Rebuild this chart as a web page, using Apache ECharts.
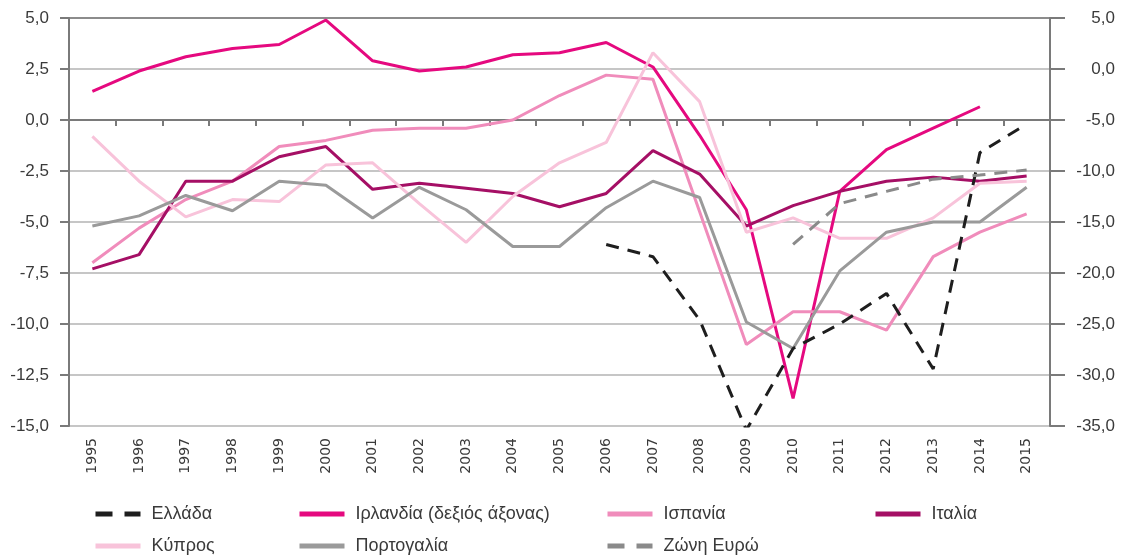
<!DOCTYPE html>
<html>
<head>
<meta charset="utf-8">
<script src="https://cdn.jsdelivr.net/npm/echarts@6/dist/echarts.min.js"></script>
<style>
  html, body { margin: 0; padding: 0; background: #fff; }
  #chart { width: 1122px; height: 558px; }
</style>
</head>
<body>
<div id="chart"></div>
<script>
// Years on the x axis
var years = ['1995', '1996', '1997', '1998', '1999', '2000', '2001', '2002', '2003', '2004', '2005',
  '2006', '2007', '2008', '2009', '2010', '2011', '2012', '2013', '2014', '2015'];

// Left axis series
var greece = [null, null, null, null, null, null, null, null, null, null, null,
  -6.1, -6.7, -9.8, -15.2, -11.2, -10.0, -8.5, -12.2, -1.6, -0.2];
var spain = [-7.0, -5.3, -3.9, -3.0, -1.3, -1.0, -0.5, -0.4, -0.4, 0.0, 1.2,
  2.2, 2.0, -4.5, -11.0, -9.4, -9.4, -10.3, -6.7, -5.5, -4.6];
var italy = [-7.3, -6.6, -3.0, -3.0, -1.8, -1.3, -3.4, -3.1, -3.35, -3.6, -4.25,
  -3.6, -1.5, -2.65, -5.2, -4.2, -3.5, -3.0, -2.8, -3.0, -2.75];
var cyprus = [-0.8, -3.0, -4.75, -3.9, -4.0, -2.2, -2.1, -4.1, -6.0, -3.75, -2.1,
  -1.1, 3.3, 0.9, -5.5, -4.8, -5.8, -5.8, -4.8, -3.1, -3.0];
var portugal = [-5.2, -4.7, -3.7, -4.45, -3.0, -3.2, -4.8, -3.3, -4.4, -6.2, -6.2,
  -4.3, -3.0, -3.8, -9.9, -11.2, -7.4, -5.5, -5.0, -5.0, -3.3];
var euroArea = [null, null, null, null, null, null, null, null, null, null, null,
  null, null, null, null, -6.1, -4.1, -3.5, -2.9, -2.7, -2.45];

// Right axis series
var ireland = [-2.2, -0.2, 1.2, 2.0, 2.4, 4.8, 0.8, -0.2, 0.2, 1.4, 1.6,
  2.6, 0.2, -6.5, -13.8, -32.3, -12.0, -7.9, -5.8, -3.7, null];

var leftTicks = { min: -15, max: 5, interval: 2.5 };
var rightTicks = { min: -35, max: 5, interval: 5 };

var fontFamily = "'Liberation Sans', Arial, sans-serif";
var textColor = '#3a3a3a';
var axisColor = '#7a7a7a';
var gridColor = '#c6c6c6';

var chart = echarts.init(document.getElementById('chart'));

function commaFormat(v) {
  return v.toFixed(1).replace('.', ',');
}

function lineSeries(name, data, color, axis, dashed) {
  return {
    type: 'line',
    name: name,
    data: data,
    yAxisIndex: axis,
    symbol: 'none',
    connectNulls: false,
    z: dashed ? 3 : 2,
    lineStyle: {
      color: color,
      width: 3,
      type: dashed ? [13, 9] : 'solid'
    },
    itemStyle: { color: color }
  };
}

// one legend block per entry, laid out as in the source (4 columns, 2 rows)
function legendItem(name, left, row, dashed) {
  return {
    left: left,
    top: row === 0 ? 500 : 532,
    itemWidth: 45,
    itemHeight: 18,
    data: [name],
    itemStyle: { opacity: 0 },
    lineStyle: { width: 5, type: dashed ? [17, 12] : 'solid' },
    textStyle: { fontFamily: fontFamily, fontSize: 18, color: textColor, padding: [0, 0, 0, 6] }
  };
}

var option = {
  animation: false,
  backgroundColor: '#fff',
  grid: { left: 69, right: 72, top: 18, bottom: 132 },
  legend: [
    legendItem('Ελλάδα', 88, 0, true),
    legendItem('Ιρλανδία (δεξιός άξονας)', 292, 0, false),
    legendItem('Ισπανία', 600, 0, false),
    legendItem('Ιταλία', 868, 0, false),
    legendItem('Κύπρος', 88, 1, false),
    legendItem('Πορτογαλία', 292, 1, false),
    legendItem('Ζώνη Ευρώ', 600, 1, true)
  ],
  xAxis: {
    type: 'category',
    data: years,
    boundaryGap: true,
    axisLine: { lineStyle: { color: axisColor, width: 2 } },
    axisTick: { show: true, length: 6, interval: 0, lineStyle: { color: axisColor, width: 2 } },
    axisLabel: {
      interval: 0,
      rotate: 90,
      margin: 12,
      fontFamily: "'DejaVu Sans', sans-serif",
      fontSize: 14,
      color: textColor
    }
  },
  yAxis: [{
    type: 'value',
    position: 'left',
    min: leftTicks.min,
    max: leftTicks.max,
    interval: leftTicks.interval,
    axisLine: { show: true, lineStyle: { color: axisColor, width: 2 } },
    axisTick: { show: true, length: 9, lineStyle: { color: axisColor, width: 2 } },
    splitLine: {
      show: true,
      lineStyle: {
        color: [gridColor, gridColor, gridColor, gridColor, gridColor, gridColor, gridColor, gridColor, '#8c8c8c'],
        width: 2
      }
    },
    axisLabel: {
      formatter: commaFormat,
      margin: 20,
      fontFamily: fontFamily,
      fontSize: 17,
      color: textColor
    }
  }, {
    type: 'value',
    position: 'right',
    min: rightTicks.min,
    max: rightTicks.max,
    interval: rightTicks.interval,
    axisLine: { show: true, lineStyle: { color: axisColor, width: 2 } },
    axisTick: { show: true, length: 15, lineStyle: { color: axisColor, width: 2 } },
    splitLine: { show: false },
    axisLabel: {
      formatter: commaFormat,
      align: 'right',
      margin: 65,
      fontFamily: fontFamily,
      fontSize: 17,
      color: textColor
    }
  }],
  series: [
    lineSeries('Ελλάδα', greece, '#1e1e1e', 0, true),
    lineSeries('Ιρλανδία (δεξιός άξονας)', ireland, '#e5097f', 1, false),
    lineSeries('Ισπανία', spain, '#f08cbb', 0, false),
    lineSeries('Ιταλία', italy, '#a50f65', 0, false),
    lineSeries('Κύπρος', cyprus, '#f8c3da', 0, false),
    lineSeries('Πορτογαλία', portugal, '#9a9a9a', 0, false),
    lineSeries('Ζώνη Ευρώ', euroArea, '#8a8a8a', 0, true)
  ]
};

chart.setOption(option);
</script>
</body>
</html>
